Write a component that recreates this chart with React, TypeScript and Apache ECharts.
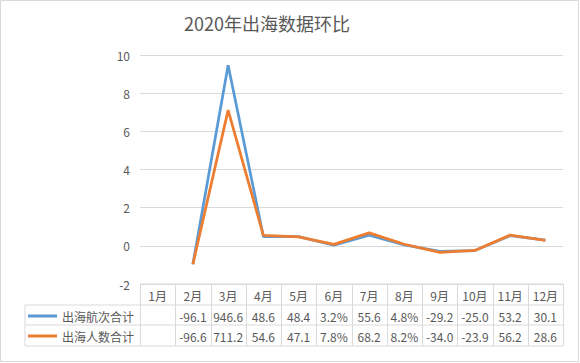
import React, { useEffect, useRef } from "react";
import * as echarts from "echarts";

const months = ["1月", "2月", "3月", "4月", "5月", "6月", "7月", "8月", "9月", "10月", "11月", "12月"];
const seriesNames = ["出海航次合计", "出海人数合计"];
const voyages: (number | null)[] = [null, -0.961, 9.466, 0.486, 0.484, 0.032, 0.556, 0.048, -0.292, -0.25, 0.532, 0.301];
const people: (number | null)[] = [null, -0.966, 7.112, 0.546, 0.471, 0.078, 0.682, 0.082, -0.34, -0.239, 0.562, 0.286];
const voyageLabels = ["", "-96.1", "946.6", "48.6", "48.4", "3.2%", "55.6", "4.8%", "-29.2", "-25.0", "53.2", "30.1"];
const peopleLabels = ["", "-96.6", "711.2", "54.6", "47.1", "7.8%", "68.2", "8.2%", "-34.0", "-23.9", "56.2", "28.6"];
const yTicks = { min: -2, max: 10, interval: 2 };

const W = 580;
const H = 363;
const GL = 140;
const GR = 563;
const GT = 55;
const GB = 284;
const ROW1 = 305;
const ROW2 = 325;
const ROW3 = 346;
const LEG_L = 25;
const GRID_C = "#D9D9D9";
const TEXT_C = "#595959";
const FONT = "'Noto Sans CJK SC', 'Microsoft YaHei', sans-serif";
const COLORS = ["#5B9BD5", "#ED7D31"];

export default function App() {
  const ref = useRef<HTMLDivElement>(null);
  useEffect(() => {
    if (!ref.current) return;
    const chart = echarts.init(ref.current, undefined, { renderer: "svg" });
    const colW = (GR - GL) / months.length;
    const lineStyle = { stroke: GRID_C, lineWidth: 1 };
    const graphics: any[] = [
      { type: "rect", shape: { x: 0.5, y: 0.5, width: W - 2, height: H - 2 }, style: { fill: "none", stroke: GRID_C, lineWidth: 1 }, silent: true },
    ];
    graphics.push({ type: "line", shape: { x1: GL, y1: GB, x2: GR, y2: GB }, style: lineStyle, silent: true });
    [ROW1, ROW2, ROW3].forEach((y) =>
      graphics.push({ type: "line", shape: { x1: LEG_L, y1: y, x2: GR, y2: y }, style: lineStyle, silent: true })
    );
    for (let i = 0; i <= months.length; i++) {
      const x = Math.round(GL + i * colW) + 0.5;
      graphics.push({ type: "line", shape: { x1: x, y1: GB, x2: x, y2: ROW3 }, style: lineStyle, silent: true });
    }
    graphics.push({ type: "line", shape: { x1: LEG_L, y1: ROW1, x2: LEG_L, y2: ROW3 }, style: lineStyle, silent: true });

    const labelBase = { color: TEXT_C, fontSize: 12, fontFamily: FONT, interval: 0 };
    const hiddenAxis = { axisLine: { show: false }, axisTick: { show: false }, splitLine: { show: false } };

    chart.setOption({
      animation: false,
      backgroundColor: "#fff",
      title: {
        text: "2020年出海数据环比",
        left: 262,
        textAlign: "center",
        top: 9,
        textStyle: { color: TEXT_C, fontSize: 18, fontWeight: "normal", fontFamily: FONT },
      },
      legend: {
        orient: "vertical",
        left: 28,
        top: ROW1 + 5,
        padding: 0,
        itemGap: 8,
        itemWidth: 29,
        itemHeight: 3,
        icon: "rect",
        data: seriesNames,
        textStyle: { color: TEXT_C, fontSize: 12, fontFamily: FONT, padding: [0, 0, 0, 0] },
      },
      grid: { left: GL, right: W - GR, top: GT, bottom: H - GB },
      xAxis: [
        { type: "category", data: months, boundaryGap: true, ...hiddenAxis, axisLabel: { ...labelBase, margin: 5 } },
        { type: "category", data: voyageLabels, position: "bottom", offset: ROW1 - GB, boundaryGap: true, ...hiddenAxis, axisLabel: { ...labelBase, margin: 5 } },
        { type: "category", data: peopleLabels, position: "bottom", offset: ROW2 - GB, boundaryGap: true, ...hiddenAxis, axisLabel: { ...labelBase, margin: 5 } },
      ],
      yAxis: {
        type: "value",
        min: yTicks.min,
        max: yTicks.max,
        interval: yTicks.interval,
        axisLine: { show: false },
        axisTick: { show: false },
        splitLine: { lineStyle: { color: GRID_C, width: 1 } },
        axisLabel: { color: TEXT_C, fontSize: 12, fontFamily: FONT, margin: 10 },
      },
      series: [
        { name: seriesNames[0], type: "line", data: voyages, xAxisIndex: 0, showSymbol: false, symbol: "none", lineStyle: { width: 2.75, color: COLORS[0] }, itemStyle: { color: COLORS[0] } },
        { name: seriesNames[1], type: "line", data: people, xAxisIndex: 0, showSymbol: false, symbol: "none", lineStyle: { width: 2.75, color: COLORS[1] }, itemStyle: { color: COLORS[1] } },
      ],
      graphic: graphics,
    });
    return () => chart.dispose();
  }, []);
  return <div ref={ref} style={{ position: "fixed", left: 0, top: 0, width: W, height: H }} />;
}
